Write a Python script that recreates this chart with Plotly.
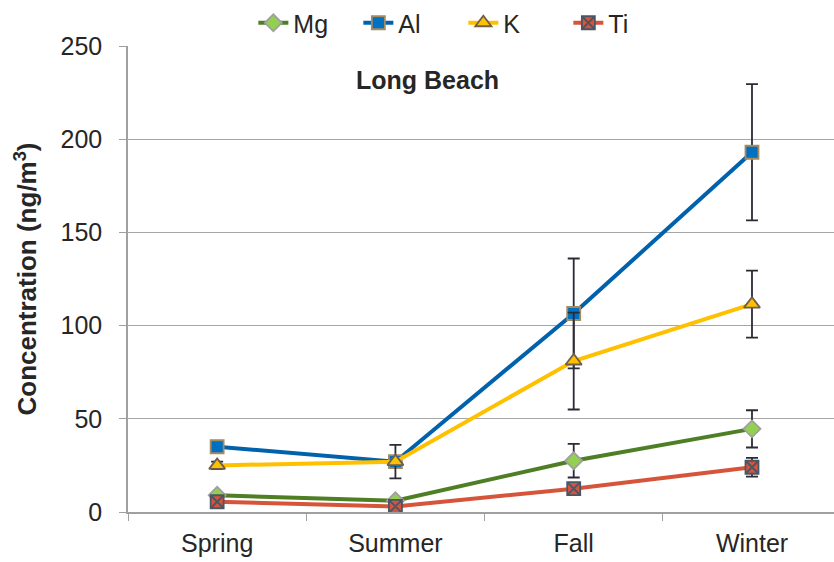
import plotly.graph_objects as go

seasons = ["Spring", "Summer", "Fall", "Winter"]
mg = [9, 6, 27.5, 44.6]
mg_err = [0, 0, 9, 10]
al = [35, 27, 106.5, 193]
al_err = [0, 0, 29.5, 36.5]
k = [25, 27, 81, 111.5]
k_err = [2, 9, 26, 18]
ti = [5.5, 3, 12.5, 24]
ti_err = [0, 0, 2, 5]

series = [
    ("Mg", mg, mg_err, "#4E7F25", "diamond", "#92D050", "#A0A0A0", 13),
    ("Al", al, al_err, "#0062AC", "square", "#0070C0", "#A58B62", 13),
    ("K", k, k_err, "#FFC000", "triangle-up", "#FFC000", "#6F5E4A", 14),
    ("Ti", ti, ti_err, "#D6553A", "square-x", "#D6553A", "#4A5566", 13),
]

fig = go.Figure()
for name, vals, errs, lc, sym, fc, mlc, ms in series:
    fig.add_trace(go.Scatter(
        x=seasons, y=vals, name=name, mode="lines+markers",
        line=dict(color=lc, width=4),
        marker=dict(symbol=sym, size=ms, color=fc, line=dict(color=mlc, width=1.8)),
        error_y=dict(type="data", array=errs, visible=True, color="#2B2B36",
                     thickness=1.8, width=6),
    ))

fig.add_annotation(text="<b>Long Beach</b>", x=1.18, y=232, xref="x", yref="y",
                   showarrow=False, font=dict(size=25, color="#262626"))

fig.update_layout(
    width=834, height=562,
    margin=dict(l=128, r=0, t=45, b=50),
    paper_bgcolor="white", plot_bgcolor="white",
    font=dict(family="Liberation Sans, Arial, sans-serif", size=25, color="#262626"),
    showlegend=True,
    legend=dict(orientation="h", x=0.475, xanchor="center", y=1.0, yanchor="bottom",
                font=dict(size=25, color="#262626"), entrywidth=60, traceorder="normal",
                bgcolor="rgba(0,0,0,0)"),
    xaxis=dict(range=[-0.5, 3.46], showgrid=False, showline=True, linecolor="#A0A0A0",
               linewidth=1.5, ticks="outside", tickson="boundaries", ticklen=7,
               tickcolor="#A0A0A0", ticklabelstandoff=8,
               tickfont=dict(size=25, color="#262626")),
    yaxis=dict(range=[0, 250], dtick=50, showgrid=True, gridcolor="#A6A6A6", gridwidth=1.2,
               showline=True, linecolor="#A0A0A0", linewidth=1.5, ticks="outside",
               ticklen=7, tickcolor="#A0A0A0", zeroline=False, ticklabelstandoff=12,
               tickfont=dict(size=25, color="#262626"),
               title=dict(text="<b>Concentration (ng/m<sup>3</sup>)</b>",
                          font=dict(size=26, color="#262626"), standoff=16)),
)

fig.write_html("out.html")
